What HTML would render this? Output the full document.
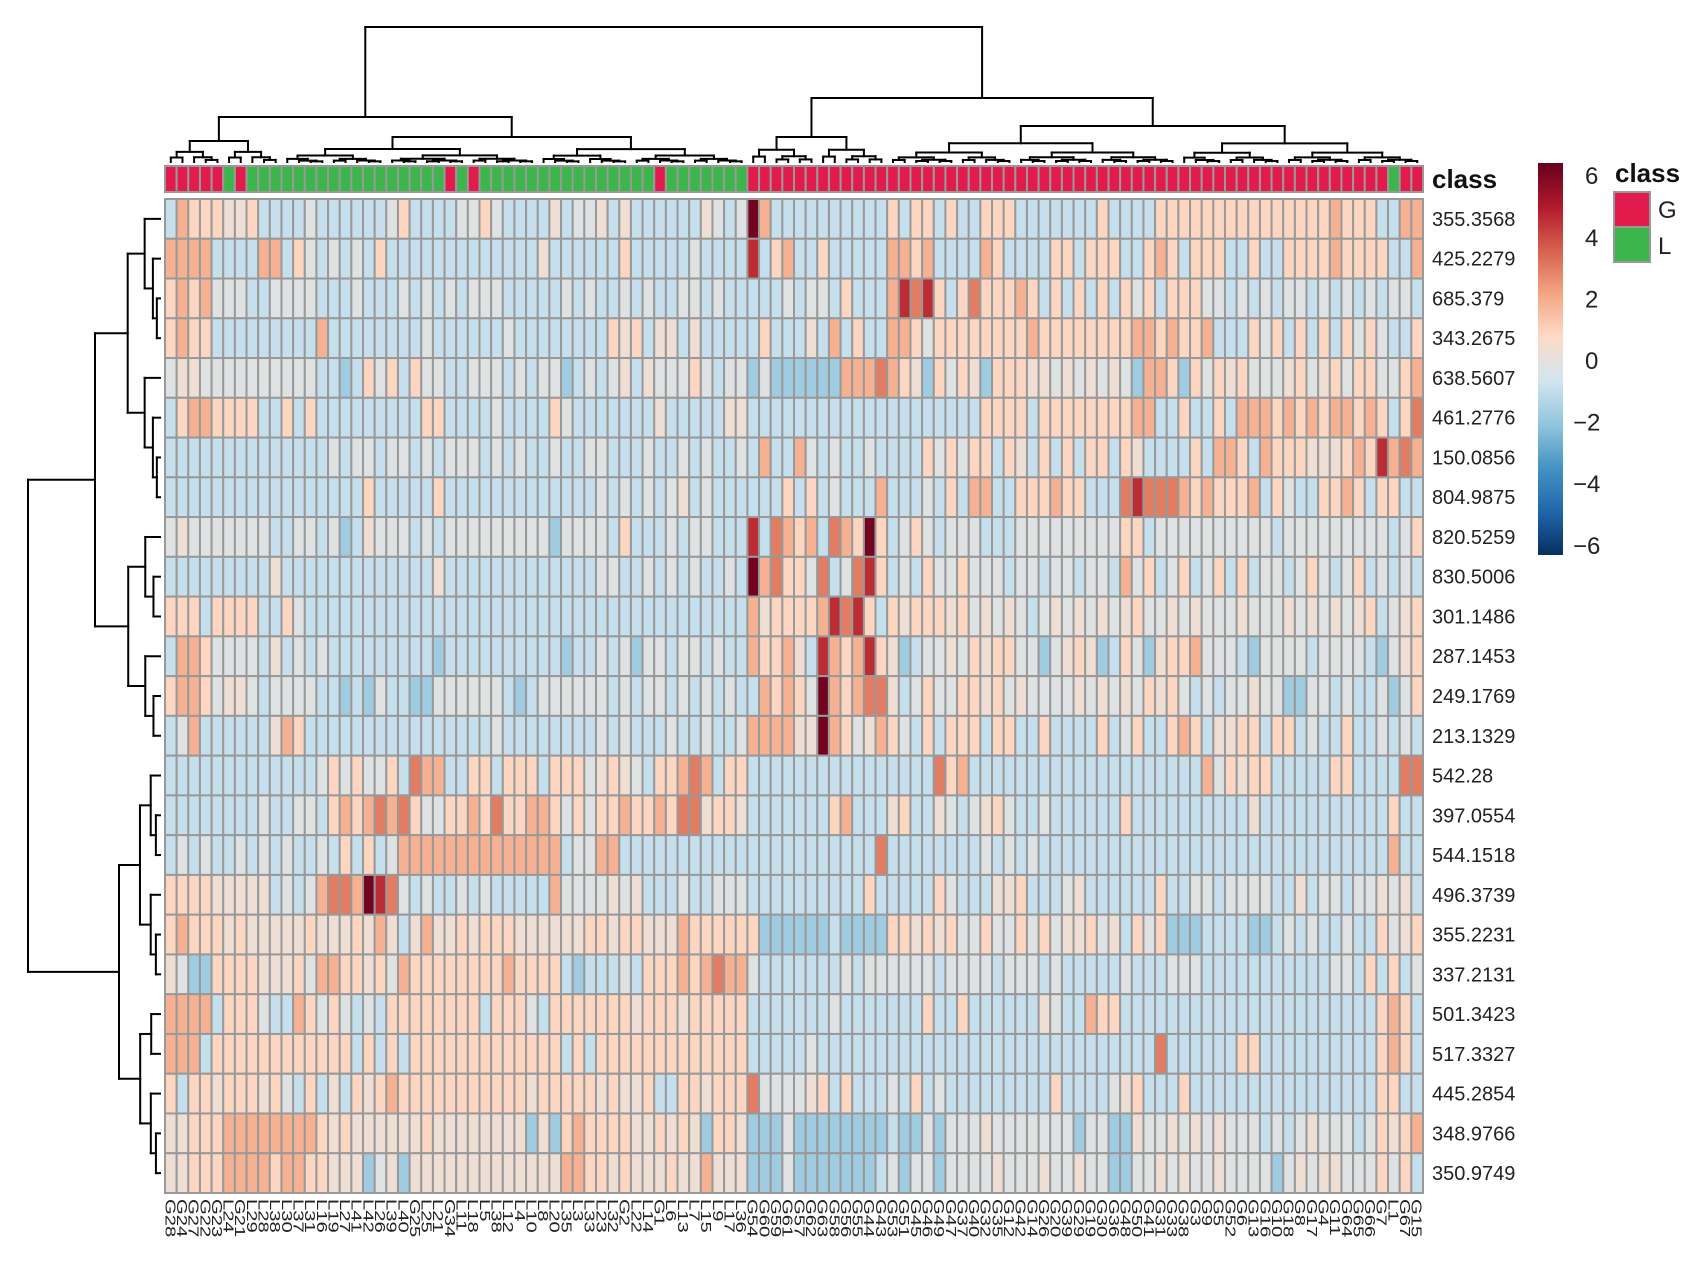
<!DOCTYPE html>
<html><head><meta charset="utf-8">
<style>
html,body{margin:0;padding:0;background:#fff;}
svg{display:block;font-family:"Liberation Sans",sans-serif;}
</style></head>
<body>
<svg id="chart" width="1702" height="1274" viewBox="0 0 1702 1274" xmlns="http://www.w3.org/2000/svg">
  <g id="dendro-top"></g>
  <g id="dendro-left"></g>
  <g id="classbar"></g>
  <g id="cells"></g>
  <g id="rowlabels"></g>
  <g id="collabels"></g>
  <text x="1432" y="188" font-size="26" font-weight="bold" fill="#111">class</text>
  <defs>
    <linearGradient id="cbgrad" x1="0" y1="0" x2="0" y2="1">
      <stop offset="0" stop-color="#67001F"/><stop offset="0.111" stop-color="#B2182B"/>
      <stop offset="0.222" stop-color="#D6604D"/><stop offset="0.333" stop-color="#F4A582"/>
      <stop offset="0.444" stop-color="#FDDBC7"/><stop offset="0.556" stop-color="#D1E5F0"/>
      <stop offset="0.667" stop-color="#92C5DE"/><stop offset="0.778" stop-color="#4393C3"/>
      <stop offset="0.889" stop-color="#2166AC"/><stop offset="1" stop-color="#053061"/>
    </linearGradient>
  </defs>
  <g>
    <rect x="1538" y="163" width="25" height="392" fill="url(#cbgrad)"/>
    <g id="cbticks" font-size="24" fill="#222"></g>
  </g>
  <g>
    <text x="1615" y="182" font-size="26" font-weight="bold" fill="#111">class</text>
    <rect x="1614" y="192" width="36" height="35" fill="#E31A4C" stroke="#999" stroke-width="2"/>
    <rect x="1614" y="227" width="36" height="35" fill="#3CB54A" stroke="#999" stroke-width="2"/>
    <text x="1658" y="218" font-size="24" fill="#222">G</text>
    <text x="1658" y="254" font-size="24" fill="#222">L</text>
  </g>
</svg>
<script>
const rowLabels = ["355.3568","425.2279","685.379","343.2675","638.5607","461.2776","150.0856","804.9875","820.5259","830.5006","301.1486","287.1453","249.1769","213.1329","542.28","397.0554","544.1518","496.3739","355.2231","337.2131","501.3423","517.3327","445.2854","348.9766","350.9749"];
const colLabels = ["G28","G24","G27","G22","G23","L24","G21","L29","L28","L38","L30","L37","L31","L16","L19","L27","L41","L42","L26","L39","L40","G25","L25","L21","G34","L11","L18","L5","L38","L12","L4","L10","L8","L20","L35","L3","L33","L23","L32","G2","L22","L14","G1","L6","L13","L7","L15","L9","L17","L36",
"G54","G60","G59","G61","G57","G62","G63","G58","G56","G55","G44","G43","G53","G51","G45","G46","G49","G47","G37","G40","G32","G35","G12","G42","G14","G26","G20","G39","G29","G19","G30","G36","G48","G50","G41","G31","G33","G38","G3","G9","G5","G52","G6","G13","G16","G10","G18","G8","G17","G4","G11","G64","G65","G66","G7","L1","G67","G15"];
const classes = "GGGGGLG" + "L".repeat(17) + "GLG" + "L".repeat(15) + "G" + "L".repeat(7) + "G".repeat(55) + "L" + "GG";
const levelCodes = ["B","b","n","w","p","o","r","R","D"];
const levelValues = [-1.7,-0.9,-0.25,0.25,0.8,1.7,2.8,4.3,5.8];
const segA = [
"bopppwwpbbbbnbbbbbbnpbbbbnnpnbbbbwbn",
"oooobbbboobpnbnbnbpbbbbbbbbbbbbbwbbbb",
"poponnnbbnnnnbbbnbbbnbnbnbnnnbbbbbnbn",
"poppbbbbbbbbbobbbbbbbbnbbbbbbnbbbbbbb",
"nwwnnnnnnnnnnbbBbpnpbpnnbbnnnbnbnnBbn",
"bpooppppbbpbpbbbbbbbbbppbbbbnbbbbpnbb",
"bbbbbbbbbbbbbbnbnnbnnbnbnnnbnbnbbnbbn",
"bbbbbbbbbbbbbbbbbpbbbbbpbbbbbbbbbbbbb",
"nwnnnnnnnbbnnbnBbwnnnbnbnnnnnnnnnBnnn",
"bbbbbbbbbwbbbbbbbbbbbbbwbbbbbbbbbbbbb",
"pppbppppbbpnbbbbbbbbbbbbbbbbbbbbbbbbb",
"boopnnnnbwbnbnbbbbbbbbbBbbbbbbbbbbBbb",
"poopnwwnbnnnnbbBbBnbbBBnnnnnnbBbnnnnn",
"bnobbbbbbwopbbbbbbbbbbbbbbbbnbbbbbbbb",
"bbbbbbbbbbbbbnpnpnnpbroobbppbpppbpppn",
"bbbbbbbbnbbnnbpopororpnnppoprppoopnpn",
"bnbnbbnbnbnbbnbpbpbn"+"oooooooooooooo"+"bnn",
"ppppwwwwwbnbnorroDRrnbnbbnbnbbbbbonnn",
"popppwpwwwwwpwwwpwowbwowwpwpppwwwwwwp",
"wnBBppppwwwpnooppwpnoppppppppoppppbBb",
"oooobpppnbbopnpnbnbppppppppbpppnbpppp",
"ooobppppppppppppbpbpbpppppppppppppbpb",
"pbppwpppwpnbpbwbpwpopppppppppppwppppp",
"wwppp"+"oooooooo"+"pwpwwwwwwpwwwwwwww"+"BwBpop",
"wwpppoooopooppwwwBnwB"+"wwwwwwwwwwwww"+"oop"];
const segB = [
"wbwbbbbbbwnbnDobbbbbbbbbbpbppbpbbpp",
"bbpbbbbbnbbbbRbpobbpbbbbboopobbbbop",
"bbnbnbbnnbnbb"+"bbbnbnnbpbbb"+"oRrRpbprpp",
"bpwpbwwbwbbbb"+"bpbbbwbobpbb"+"oopnpppppp",
"bnwbwnnnpnbnn"+"BnBBBBBBooor"+"opwBpnpwBp",
"bbbbbwbbbbbww"+"bbbbbbbbbbbb"+"bbbbbbbbpp",
"nbbbnbbnbnbbn"+"bobbonbnbbnb"+"bbbpnpnppb",
"nbnbnbnwbnbbb"+"bbbpbpbnbbbo"+"bbbnbpboob",
"nbpbbbnbnnbbb"+"RbropobropDp"+"bnpnbnnnbb",
"nnbbnbnbnbbnb"+"DorppnrbnrRp"+"bnbpnnpnnn",
"bbbbbbbbbbbbb"+"owppppoRrRpb"+"pwpppwpnwn",
"nbnBnnbnnbnbb"+"oppowbRopoRp"+"wBbnnwnpwp",
"nbnbnnbnbnbnb"+"bopopnDoporr"+"wbnpnnppwp",
"nbnbbbnbbnbbn"+"oooowwDopnwo"+"pnbpbpppbp",
"wpwnbpporobpp"+"bbbbbbbbbbbb"+"bbbbrpobbb",
"ppoppoprrwppw"+"bbbbbbbpobbb"+"wpbbwnbnwp",
"oobbbbbbbbbbb"+"bbbbbbbbbbbr"+"bbbbbbbbnb",
"nwnwbbbnbbnnn"+"bbbbbbbbbbpb"+"bbbbpnbbbw",
"pwppwwwoppppp"+"pBBBBBBbBBBB"+"ppwpwpnnpn",
"bbnbpppoporoo"+"nbbbbbbbnbnn"+"nnnnbnnnnb",
"pppwpppwppppp"+"bbbbbbbnbbbb"+"bbbpbbpbbb",
"ppppppppppppp"+"bbbbbnbbbbbb"+"bbbbbbbbbb",
"wpwwpbbppwppp"+"rnnnnwpbpbbb"+"nbpbnbbbbb",
"pppwwpwpwBppw"+"BBBnBBBBBBBB"+"bBBnBnnnwn",
"pwpwwwpwwowww"+"BBBnBBBBBBBb"+"nBnnBnnnnw"];
const segC = [
"pbbbbbbbpbbbbpppppppppppppppopppbboo",
"bbbbppbpppbbpopbpppbbpbbppppoppppbbob",
"popbpbpbpbpnpbpppnnbnbnbnnbnbnbnbnnb",
"ppoppppppppoopoppobbbpnpbpbpbpnpnbbpb",
"ppwwnwnwnwnBoopBpnpwpnnnwpnwpnppnnpo",
"ppbppppppppoobbpbbpbooopopopoopopbpr",
"pwbpbpbppbpwbbbbpboopbopppwwwpopRoro",
"bpppoppbbbrRrrropopppobpnbbppopbppbb",
"bnnnnnnnnnppbnnnnnnnnnnbnnnnnnnnnbnp",
"bnnbnnbnnbonpbnpbnpbpbnnbnpnbnpbnbnb",
"wnbnwnwnwnwpnnwnwnnnwnnnwnwnwnwpbnwp",
"pnnBnwpwBbpnBwpponnnbBnnnnbnnnnbBnwp",
"nwnnnnwnwnwnpwpnbnbnnwnnBBnnbnbbnBnp",
"pbbpbbbbpbnpbbpopbwwppbppbnbbpbbnbnb",
"bbbbbbbbbbbbbbbbbonpwppbbbbbppbbbbrr",
"nbbnbbbbbbpbbbbbbbbbbwbbbbbbbbbbbpbb",
"nbnbbbbbbbbbbbbbbbbbbbbbbbbbbbbbbobb",
"wpbbbnwbbbbbbpbbnnbnnnnbbwbnnbnnwnwb",
"npnpnwwpnwbpnpBBBbbbbBBbnbnbbnbbpnwp",
"nnnbnbbbbbnbbbnnnbbbbbbbbbbbnnbpbpbn",
"bbbwnbbopp"+"bbbbbbbbbbbbbbbbbbbbbb"+"popb",
"bbbbbbbbbbbbbrbbbbbbppbbbbbbbbbbpopb",
"bbbbpbbbbnwpbbbpbbbbbbbbbbbbbbbbppbb",
"nnnnnnBnnBBwnnwnwnwnnnbnbnwnnnbnpwpo",
"nnnwnnwnnBBnnwnwnnwnnnnBnwnwwnnnpnpb"];
const colorTicks = [6,4,2,0,-2,-4,-6];

const NS = "http://www.w3.org/2000/svg";
const X0 = 165, X1 = 1423, Y0 = 199, Y1 = 1193;
const nCol = 108, nRow = 25;
const cw = (X1 - X0) / nCol, rh = (Y1 - Y0) / nRow;
const xPos = c => X0 + c * cw;
const yPos = r => Y0 + r * rh;
function pad(s, n) { return (s + "n".repeat(n)).slice(0, n); }
const palette = ["#053061","#2166AC","#4393C3","#92C5DE","#D1E5F0","#FDDBC7","#F4A582","#D6604D","#B2182B","#67001F"];
function hex(h){return [1,3,5].map(i=>parseInt(h.substr(i,2),16));}
function colorOf(v){
  let t = (Math.max(-6, Math.min(6, v)) + 6) / 12 * (palette.length - 1);
  let i = Math.min(Math.floor(t), palette.length - 2), f = t - i;
  const a = hex(palette[i]), b = hex(palette[i+1]);
  return "rgb(" + a.map((x,k)=>Math.round(x + (b[k]-x)*f)).join(",") + ")";
}
function mk(tag, attrs, parent){
  const e = document.createElementNS(NS, tag);
  for (const k in attrs) e.setAttribute(k, attrs[k]);
  parent.appendChild(e); return e;
}

const cellsG = document.getElementById("cells");
for (let r = 0; r < nRow; r++) {
  const codes = pad(segA[r],37) + pad(segB[r],35) + pad(segC[r],36);
  for (let c = 0; c < nCol; c++) {
    const v = levelValues[levelCodes.indexOf(codes[c])];
    const el = mk("rect", {x: xPos(c), y: yPos(r), width: cw, height: rh, fill: colorOf(v), stroke: "#999", "stroke-width": 2}, cellsG);
    
    
  }
}
const cbG = document.getElementById("classbar");
for (let c = 0; c < nCol; c++) {
  const el = mk("rect", {x: xPos(c), y: 166, width: cw, height: 26, fill: classes[c] === "G" ? "#E31A4C" : "#3CB54A", stroke: "#999", "stroke-width": 2}, cbG);
  
  
}
const rlG = document.getElementById("rowlabels");
rowLabels.forEach((t, r) => {
  const el = mk("text", {x: 1432, y: yPos(r) + rh/2 + 7, "font-size": 20, fill: "#222"}, rlG);
  el.textContent = t;
  
  
});
const clG = document.getElementById("collabels");
colLabels.forEach((t, c) => {
  const cx = xPos(c) + cw/2;
  const el = mk("text", {transform: "translate(" + (cx - 5.5) + ",1199) rotate(90) scale(1.35,1)", "font-size": 15, fill: "#222"}, clG);
  el.textContent = t;
  
  
});
const ctG = document.getElementById("cbticks");
colorTicks.forEach(v => {
  const y = 360 - v * 30.8;
  const el = mk("text", {x: v < 0 ? 1573 : 1585, y: y + 9}, ctG);
  el.textContent = v < 0 ? "\u2212" + (-v) : String(v);
  
  
});

function buildTree(a, b, h, leafH, splits, heights, depth) {
  if (a === b) return {pos: a, h: leafH, lines: []};
  let s = splits[a + "-" + b];
  if (s === undefined) s = a + Math.max(0, Math.floor((b - a + 1) * (depth % 2 ? 0.45 : 0.55)) - 1);
  const kl = a + "-" + s, kr = (s + 1) + "-" + b;
  const hl = heights[kl] !== undefined ? heights[kl] : h + (leafH - h) * (0.45 + 0.15 / Math.sqrt(s - a + 1));
  const hr = heights[kr] !== undefined ? heights[kr] : h + (leafH - h) * (0.45 + 0.15 / Math.sqrt(b - s));
  const L = buildTree(a, s, hl, leafH, splits, heights, depth + 1);
  const R = buildTree(s + 1, b, hr, leafH, splits, heights, depth + 1);
  const lines = L.lines.concat(R.lines);
  lines.push([L.pos, h, R.pos, h], [L.pos, h, L.pos, L.h], [R.pos, h, R.pos, R.h]);
  return {pos: (L.pos + R.pos) / 2, h: h, lines: lines};
}
const colTree = buildTree(0, nCol - 1, 27, 162, {"0-107": 49, "50-107": 61, "0-49": 9}, {"0-49": 117, "50-107": 98, "0-9": 141, "10-49": 137, "50-61": 137, "62-107": 126}, 0);
const dt = document.getElementById("dendro-top");
colTree.lines.forEach(l => {
  const x1 = X0 + (l[0] + 0.5) * cw, x2 = X0 + (l[2] + 0.5) * cw;
  const el = mk("line", {x1: x1, y1: l[1], x2: x2, y2: l[3], stroke: "#000", "stroke-width": 2, "stroke-linecap": "square"}, dt);
  
  
});
const rowTree = buildTree(0, nRow - 1, 28, 160, {"0-24": 13, "0-13": 7, "14-24": 19}, {"0-13": 95, "14-24": 119}, 0);
const dl = document.getElementById("dendro-left");
rowTree.lines.forEach(l => {
  const y1 = Y0 + (l[0] + 0.5) * rh, y2 = Y0 + (l[2] + 0.5) * rh;
  const el = mk("line", {x1: l[1], y1: y1, x2: l[3], y2: y2, stroke: "#000", "stroke-width": 2, "stroke-linecap": "square"}, dl);
  
  
});
</script>
</body></html>
